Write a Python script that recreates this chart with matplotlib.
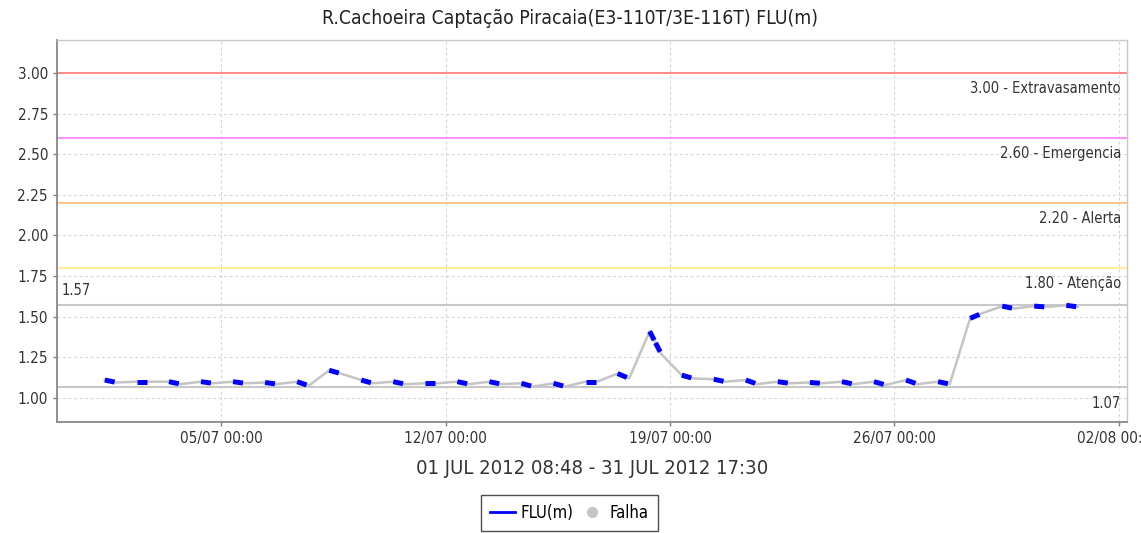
import matplotlib.pyplot as plt
import matplotlib.dates as mdates
from matplotlib.lines import Line2D
import numpy as np
from datetime import datetime, timedelta

# daily readings (first and last of each day), July 2012
days = list(range(1, 32))
first_reading = [1.11, 1.10, 1.10, 1.10, 1.10, 1.095, 1.10, 1.17, 1.11, 1.10,
                 1.09, 1.10, 1.10, 1.09, 1.09, 1.10, 1.15, 1.41, 1.14, 1.115,
                 1.11, 1.10, 1.095, 1.10, 1.10, 1.11, 1.10, 1.49, 1.565, 1.565, 1.57]
last_reading = [1.095, 1.10, 1.085, 1.09, 1.09, 1.085, 1.075, 1.15, 1.09, 1.085,
                1.09, 1.085, 1.085, 1.07, 1.07, 1.10, 1.12, 1.27, 1.12, 1.10,
                1.085, 1.09, 1.09, 1.085, 1.08, 1.085, 1.085, 1.52, 1.55, 1.56, 1.56]

limits = [3.00, 2.60, 2.20, 1.80]
limit_names = ['Extravasamento', 'Emergencia', 'Alerta', 'Atenção']
limit_colors = ['#ff8080', '#ff88ff', '#ffc080', '#ffee90']
max_val, min_val = 1.57, 1.07

t_first = [datetime(2012, 7, d, 8, 48) for d in days]
t_last = [datetime(2012, 7, d, 17, 30) for d in days]

plt.rcParams['font.stretch'] = 'condensed'

fig = plt.figure(figsize=(11.41, 5.33), dpi=100)
ax = fig.add_axes([0.05, 0.2083, 0.9377, 0.7167])

# grid
ax.grid(True, color='#d4d4d4', linestyle=(0, (2.5, 2.5)), linewidth=0.8)
ax.set_axisbelow(True)

# threshold lines
for v, name, c in zip(limits, limit_names, limit_colors):
    ax.axhline(v, color=c, linewidth=1.3, zorder=2)
    ax.text(0.9945, v - 0.05, '%.2f - %s' % (v, name), transform=ax.get_yaxis_transform(),
            ha='right', va='top', fontsize=10.5, color='#333333')

# max/min lines
ax.axhline(max_val, color='#c8c8c8', linewidth=1.5, zorder=2)
ax.axhline(min_val, color='#c8c8c8', linewidth=1.5, zorder=2)
ax.text(0.004, max_val + 0.045, '%.2f' % max_val, transform=ax.get_yaxis_transform(),
        ha='left', va='bottom', fontsize=10.5, color='#333333')
ax.text(0.9945, min_val - 0.06, '%.2f' % min_val, transform=ax.get_yaxis_transform(),
        ha='right', va='top', fontsize=10.5, color='#333333')

# gray line through all readings (gaps = falha)
t_all, v_all = [], []
for a, b, va, vb in zip(t_first, t_last, first_reading, last_reading):
    t_all += [a, b]
    v_all += [va, vb]
ax.plot(t_all, v_all, color='#c4c4c4', linewidth=1.8, zorder=3)

# blue segments within each day
for a, b, va, vb in zip(t_first, t_last, first_reading, last_reading):
    ax.plot([a, b], [va, vb], color='#0000ff', linewidth=3.6,
            linestyle=(0, (2.0, 0.6)), solid_capstyle='round', zorder=4)

ax.set_xlim(datetime(2012, 6, 29, 21, 0), datetime(2012, 8, 2, 6, 15))
ax.set_ylim(0.852, 3.203)
ax.set_yticks(np.arange(1.0, 3.01, 0.25))
ax.yaxis.set_major_formatter(plt.FormatStrFormatter('%.2f'))
xt = [datetime(2012, 7, 5) + timedelta(days=7 * i) for i in range(5)]
ax.set_xticks(xt)
ax.xaxis.set_major_formatter(mdates.DateFormatter('%d/%m %H:%M'))

ax.tick_params(axis='both', labelsize=11, colors='#808080', labelcolor='#333333',
               length=3, width=1)
for s in ['left', 'bottom']:
    ax.spines[s].set_color('#888888')
    ax.spines[s].set_linewidth(1.3)
for s in ['top', 'right']:
    ax.spines[s].set_color('#c8c8c8')
    ax.spines[s].set_linewidth(1.0)

# title is centred on the whole figure, not the plot area
fig.suptitle('R.Cachoeira Captação Piracaia(E3-110T/3E-116T) FLU(m)', x=0.5, y=1 - 18 / 533,
             va='center', fontsize=13.9, color='#222222')
ax.set_xlabel('01 JUL 2012 08:48 - 31 JUL 2012 17:30', fontsize=14.5, color='#333333',
              labelpad=9)

handles = [Line2D([], [], color='#0000ff', linewidth=2),
           Line2D([], [], color='#c4c4c4', marker='o', linestyle='none', markersize=7)]
leg = fig.legend(handles, ['FLU(m)', 'Falha'], loc='upper center', bbox_to_anchor=(0.499, 1 - 495 / 533),
                 ncol=2, prop={'size': 12, 'stretch': 'condensed'}, frameon=True, fancybox=False,
                 handlelength=1.5, handletextpad=0.3, columnspacing=0.4, borderpad=0.55,
                 borderaxespad=0)
leg.get_frame().set_edgecolor('#222222')
leg.get_frame().set_linewidth(1.0)

fig.savefig('out.png', dpi=100)
